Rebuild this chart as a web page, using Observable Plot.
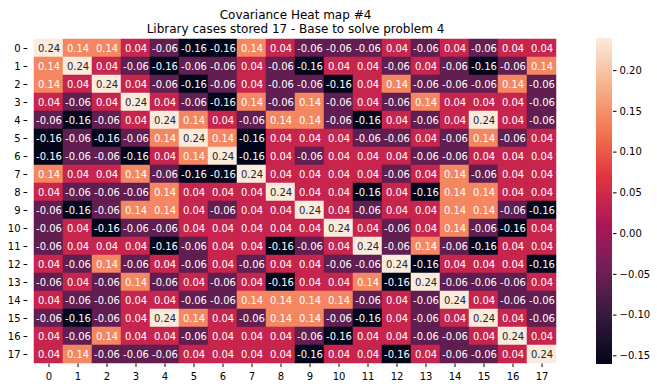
<!DOCTYPE html>
<html><head><meta charset="utf-8">
<script src="https://cdn.jsdelivr.net/npm/d3@7"></script>
<script src="https://cdn.jsdelivr.net/npm/@observablehq/plot@0.6"></script>
<style>
html,body{margin:0;padding:0;background:#fff;}
#chart{position:relative;width:657px;height:388px;}
#chart svg{position:absolute;left:0;top:0;}
</style></head><body><div id="chart"></div>
<script>
const title = "Covariance Heat map #4";
const subtitle = "Library cases stored 17 - Base to solve problem 4";
const labels = [0,1,2,3,4,5,6,7,8,9,10,11,12,13,14,15,16,17];
const colorTicks = [-0.15,-0.10,-0.05,0,0.05,0.10,0.15,0.20];
const colorDomain = [-0.16, 0.24];
const matrix = [
 [0.24,0.14,0.14,0.04,-0.06,-0.16,-0.16,0.14,0.04,-0.06,-0.06,-0.06,0.04,-0.06,0.04,-0.06,0.04,0.04],
 [0.14,0.24,0.04,-0.06,-0.16,-0.06,-0.06,0.04,-0.06,-0.16,0.04,0.04,-0.06,0.04,-0.06,-0.16,-0.06,0.14],
 [0.14,0.04,0.24,0.04,-0.06,-0.16,-0.06,0.04,-0.06,-0.06,-0.16,0.04,0.14,-0.06,-0.06,-0.06,0.14,-0.06],
 [0.04,-0.06,0.04,0.24,0.04,-0.06,-0.16,0.14,-0.06,0.14,-0.06,0.04,-0.06,0.14,0.04,0.04,0.04,-0.06],
 [-0.06,-0.16,-0.06,0.04,0.24,0.14,0.04,-0.06,0.14,0.14,-0.06,-0.16,0.04,-0.06,0.04,0.24,0.04,-0.06],
 [-0.16,-0.06,-0.16,-0.06,0.14,0.24,0.14,-0.16,0.04,0.04,0.04,-0.06,-0.06,0.04,-0.06,0.14,-0.06,0.04],
 [-0.16,-0.06,-0.06,-0.16,0.04,0.14,0.24,-0.16,0.04,-0.06,0.04,0.04,0.04,-0.06,-0.06,0.04,0.04,0.04],
 [0.14,0.04,0.04,0.14,-0.06,-0.16,-0.16,0.24,0.04,0.04,0.04,0.04,-0.06,0.04,0.14,-0.06,0.04,0.04],
 [0.04,-0.06,-0.06,-0.06,0.14,0.04,0.04,0.04,0.24,0.04,0.04,-0.16,0.04,-0.16,0.14,0.14,0.04,0.04],
 [-0.06,-0.16,-0.06,0.14,0.14,0.04,-0.06,0.04,0.04,0.24,0.04,-0.06,0.04,0.04,0.14,0.14,-0.06,-0.16],
 [-0.06,0.04,-0.16,-0.06,-0.06,0.04,0.04,0.04,0.04,0.04,0.24,0.04,-0.06,0.04,0.14,-0.06,-0.16,0.04],
 [-0.06,0.04,0.04,0.04,-0.16,-0.06,0.04,0.04,-0.16,-0.06,0.04,0.24,-0.06,0.14,-0.06,-0.16,0.04,0.04],
 [0.04,-0.06,0.14,-0.06,0.04,-0.06,0.04,-0.06,0.04,0.04,-0.06,-0.06,0.24,-0.16,0.04,0.04,0.04,-0.16],
 [-0.06,0.04,-0.06,0.14,-0.06,0.04,-0.06,0.04,-0.16,0.04,0.04,0.14,-0.16,0.24,-0.06,-0.06,-0.06,0.04],
 [0.04,-0.06,-0.06,0.04,0.04,-0.06,-0.06,0.14,0.14,0.14,0.14,-0.06,0.04,-0.06,0.24,0.04,-0.06,-0.06],
 [-0.06,-0.16,-0.06,0.04,0.24,0.14,0.04,-0.06,0.14,0.14,-0.06,-0.16,0.04,-0.06,0.04,0.24,0.04,-0.06],
 [0.04,-0.06,0.14,0.04,0.04,-0.06,0.04,0.04,0.04,-0.06,-0.16,0.04,0.04,-0.06,-0.06,0.04,0.24,0.04],
 [0.04,0.14,-0.06,-0.06,-0.06,0.04,0.04,0.04,0.04,-0.16,0.04,0.04,-0.16,0.04,-0.06,-0.06,0.04,0.24]
];

const rocket = ["#03051a","#35193e","#701f57","#ad1759","#e13342","#f37651","#f6b48f","#faebdd"];
const colorOpts = {type:"linear", domain: colorDomain, interpolate: d3.piecewise(d3.interpolateRgb, rocket)};

const cells = [];
matrix.forEach((row, r) => row.forEach((v, c) => cells.push({row: labels[r], col: labels[c], value: v})));
const fmt = v => v.toFixed(2);
const font = {fontFamily:"DejaVu Sans, sans-serif", fontSize:"10px", color:"#000", background:"transparent", overflow:"visible"};

const main = Plot.plot({
  width:657, height:388,
  marginLeft:27.3, marginRight:94.3, marginTop:37.5, marginBottom:24.5,
  style: font,
  x:{type:"band", domain: labels, padding:0, axis:null, label:null},
  y:{type:"band", domain: labels, padding:0, axis:null, label:null},
  color: colorOpts,
  marks:[
    Plot.cell(cells, {x:"col", y:"row", fill:"value", stroke:"value", strokeWidth:0.5}),
    Plot.text(cells.filter(d => d.value <= 0.2), {x:"col", y:"row", text: d => fmt(d.value), fill:"#fff", fontSize:10}),
    Plot.text(cells.filter(d => d.value > 0.2), {x:"col", y:"row", text: d => fmt(d.value), fill:"#262626", fontSize:10}),
    Plot.axisX({tickSize:3.5, tickPadding:4.9, fontSize:10, label:null}),
    Plot.axisY({tickSize:3.8, tickPadding:3.5, fontSize:10, label:null}),
    Plot.text([title + "\n" + subtitle], {frameAnchor:"top", lineAnchor:"bottom", dy:-5, fontSize:12, lineHeight:1.2, fill:"#000"})
  ]
});

const n = 256;
const step = (colorDomain[1]-colorDomain[0])/n;
const bands = d3.range(n).map(i => colorDomain[0] + i*step);
const bar = Plot.plot({
  width:657, height:388,
  marginLeft:596, marginRight:45, marginTop:37.5, marginBottom:24.5,
  style: font,
  x:{domain:[0,1], axis:null},
  y:{domain: colorDomain, axis:null, label:null},
  color: colorOpts,
  marks:[
    Plot.rect(bands, {x1:0, x2:1, y1: d => d, y2: d => d + step, fill: d => d + step/2, shapeRendering:"crispEdges"}),
    Plot.axisY({anchor:"right", ticks: colorTicks, tickFormat: d => d.toFixed(2).replace("-", "\u2212"), tickSize:3.5, tickPadding:3.5, fontSize:10, label:null})
  ]
});

const el = document.getElementById("chart");
el.appendChild(main);
el.appendChild(bar);
</script></body></html>
